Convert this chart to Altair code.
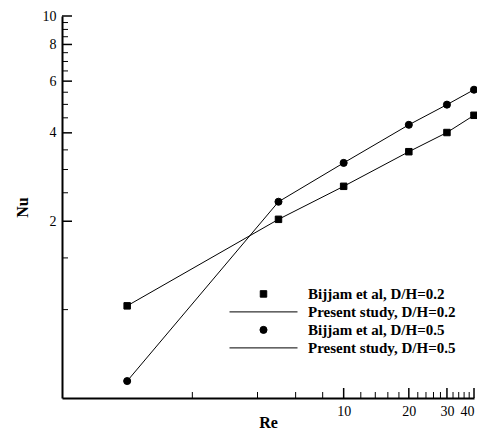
import altair as alt
import pandas as pd

# ---- data ----
re_vals = [1, 5, 10, 20, 30, 40]
nu_02 = [1.03, 2.03, 2.63, 3.45, 4.01, 4.59]
nu_05 = [0.571, 2.33, 3.16, 4.26, 4.99, 5.61]

legend_labels = [
    "Bijjam et al, D/H=0.2",
    "Present study, D/H=0.2",
    "Bijjam et al, D/H=0.5",
    "Present study, D/H=0.5",
]

y_major = [2, 4, 6, 8, 10]
y_minor = [1, 1.5, 2.5, 3, 3.5, 4.5, 5, 5.5, 6.5, 7, 7.5, 8.5, 9, 9.5]
x_major = [10, 20, 30, 40]
x_minor = [2, 4, 6, 8, 12, 14, 16, 18, 22, 24, 26, 28, 32, 34, 36, 38]

W, H = 412, 382
FONT = "Liberation Serif"

df = pd.DataFrame({
    "Re": re_vals * 2,
    "Nu": nu_02 + nu_05,
    "series": ["0.2"] * len(re_vals) + ["0.5"] * len(re_vals),
    "entry": [legend_labels[0]] * len(re_vals) + [legend_labels[2]] * len(re_vals),
})

xs = alt.Scale(type="log", domain=[0.5, 40], nice=False)
ys = alt.Scale(type="log", domain=[0.5, 10], nice=False)

ax_x = alt.Axis(values=x_major, title="Re", labelFlush=True, labelOverlap=False,
                titleY=29, titleBaseline="alphabetic", titleAnchor="middle")
ax_y = alt.Axis(values=y_major, title="Nu", labelFlush=False, labelOverlap=False,
                titleAngle=270, titleX=-35, titleY=H / 2, titleBaseline="alphabetic",
                titleAlign="center")

lines = alt.Chart(df).mark_line(color="black", strokeWidth=1).encode(
    x=alt.X("Re:Q", scale=xs, axis=ax_x),
    y=alt.Y("Nu:Q", scale=ys, axis=ax_y),
    detail="series:N",
)

leg = alt.Legend(
    title=None, orient="none", legendX=167, legendY=269,
    clipHeight=17.8, rowPadding=0,
    symbolStrokeWidth=1, labelOffset=10, labelFont=FONT,
    labelFontWeight="bold", labelFontSize=15, labelColor="black",
    symbolOpacity=1,
)

points = alt.Chart(df).mark_point(
    filled=True, fill="black", stroke="black", strokeWidth=1, opacity=1
).encode(
    x=alt.X("Re:Q", scale=xs, axis=ax_x),
    y=alt.Y("Nu:Q", scale=ys, axis=ax_y),
    shape=alt.Shape("entry:N", scale=alt.Scale(
        domain=legend_labels, range=["square", "stroke", "circle", "stroke"]),
        legend=leg),
    size=alt.Size("entry:N", scale=alt.Scale(
        type="ordinal", domain=legend_labels, range=[42, 4624, 50, 4624]),
        legend=leg),
)

ymaj = alt.Chart(pd.DataFrame({"v": y_major})).mark_rule(color="black", strokeWidth=1.5).encode(
    y=alt.Y("v:Q", scale=ys, axis=ax_y), x=alt.value(0), x2=alt.value(10))
ymin = alt.Chart(pd.DataFrame({"v": y_minor})).mark_rule(color="black", strokeWidth=1).encode(
    y=alt.Y("v:Q", scale=ys, axis=ax_y), x=alt.value(0), x2=alt.value(6))
xmaj = alt.Chart(pd.DataFrame({"v": x_major})).mark_rule(color="black", strokeWidth=1.5).encode(
    x=alt.X("v:Q", scale=xs, axis=ax_x), y=alt.value(H), y2=alt.value(H - 10))
xmin = alt.Chart(pd.DataFrame({"v": x_minor})).mark_rule(color="black", strokeWidth=1).encode(
    x=alt.X("v:Q", scale=xs, axis=ax_x), y=alt.value(H), y2=alt.value(H - 6))

chart = alt.layer(lines, points, ymaj, ymin, xmaj, xmin).properties(
    width=W, height=H, autosize="none",
    padding={"left": 54, "top": 8, "right": 3, "bottom": 32},
).configure_view(stroke=None).configure_axis(
    domainColor="black", domainWidth=2, ticks=False, tickSize=0, grid=False,
    labelFont=FONT, labelFontSize=14, labelColor="black", labelPadding=6,
    titleFont=FONT, titleFontWeight="bold", titleFontSize=16, titleColor="black",
)

chart.save("out.html", embed_options={"renderer": "svg", "actions": False})
